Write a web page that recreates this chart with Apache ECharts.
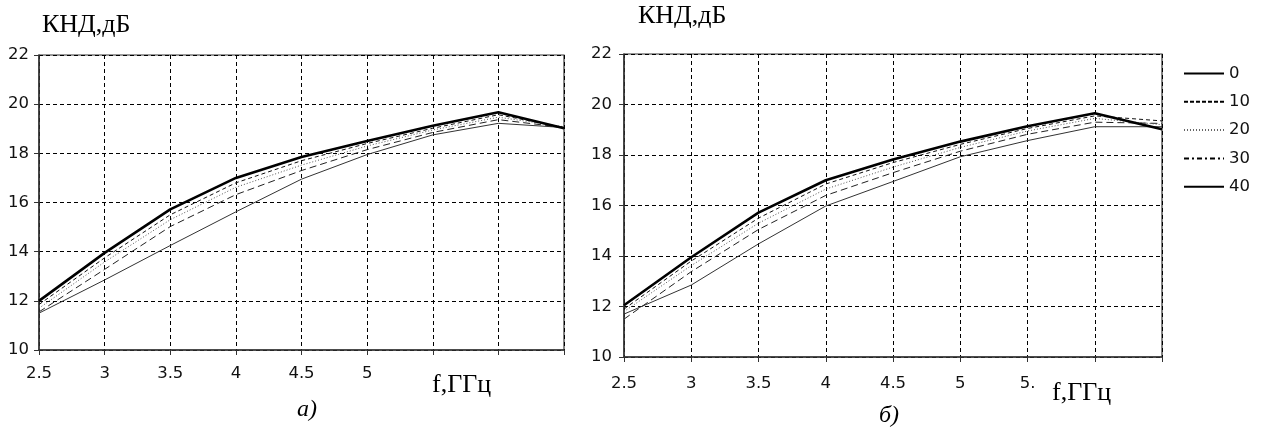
<!DOCTYPE html>
<html lang="ru">
<head>
    <meta charset="UTF-8">
    <title>КНД</title>
    <script src="https://cdn.jsdelivr.net/npm/echarts@6/dist/echarts.min.js"></script>
    <style>
        html, body { margin: 0; padding: 0; background: #fff; }
        #chart { width: 1261px; height: 427px; }
    </style>
</head>
<body>
    <div id="chart"></div>
    <script>
        // частоты, ГГц
        var freq = [2.5, 3, 3.5, 4, 4.5, 5, 5.5, 6, 6.5];
        var seriesNames = ['0', '10', '20', '30', '40'];

        // подписи оси X (на рисунке часть подписей отсутствует)
        var xLabelsA = ['2.5', '3', '3.5', '4', '4.5', '5', '', '', ''];
        var xLabelsB = ['2.5', '3', '3.5', '4', '4.5', '5', '5.', '', ''];

        // рисунок а)
        var a0  = [12.0, 13.95, 15.72, 17.0, 17.85, 18.5, 19.12, 19.67, 19.02];
        var a10 = [11.85, 13.75, 15.5, 16.8, 17.7, 18.4, 19.02, 19.57, 19.05];
        var a20 = [11.7, 13.58, 15.3, 16.62, 17.52, 18.3, 18.95, 19.47, 19.08];
        var a30 = [11.55, 13.28, 15.02, 16.32, 17.3, 18.15, 18.85, 19.37, 19.05];
        var a40 = [11.5, 12.85, 14.25, 15.62, 16.95, 17.95, 18.75, 19.22, 19.05];

        // рисунок б)
        var b0  = [12.05, 13.95, 15.72, 17.0, 17.82, 18.53, 19.14, 19.65, 19.02];
        var b10 = [11.9, 13.8, 15.5, 16.85, 17.7, 18.42, 19.05, 19.55, 19.35];
        var b20 = [11.8, 13.62, 15.3, 16.65, 17.52, 18.3, 18.95, 19.45, 19.2];
        var b30 = [11.5, 13.38, 15.05, 16.4, 17.3, 18.15, 18.82, 19.3, 19.25];
        var b40 = [11.7, 12.85, 14.48, 15.98, 16.95, 17.93, 18.57, 19.12, 19.12];

        var yMin = 10, yMax = 22, yStep = 2;

        // стили линий на графиках
        var lineStyles = [
            { width: 2.6, type: 'solid', color: '#000' },
            { width: 1, type: [4, 3], color: '#111' },
            { width: 1, type: [1, 2], color: '#555' },
            { width: 1, type: [7, 4], color: '#222' },
            { width: 1, type: 'solid', color: '#333' }
        ];
        // стили линий в легенде (как на исходном рисунке)
        var legendStyles = [
            { width: 2.2, type: 'solid', color: '#000' },
            { width: 1.6, type: [4, 2], color: '#000' },
            { width: 1, type: [1, 2], color: '#666' },
            { width: 1.6, type: [5, 3, 2, 3], color: '#000' },
            { width: 2.2, type: 'solid', color: '#000' }
        ];

        function pairs(values) {
            return freq.map(function (f, i) { return [f, values[i]]; });
        }

        function xAxisFor(gridIndex, labels, margin) {
            return {
                type: 'value',
                gridIndex: gridIndex,
                min: 2.5,
                max: 6.5,
                interval: 0.5,
                axisLine: { show: true, lineStyle: { color: '#333', width: 1.5 } },
                axisTick: { show: true, length: 5, lineStyle: { color: '#333' } },
                splitLine: { show: true, lineStyle: { color: '#000', type: [4, 3], width: 1 } },
                axisLabel: {
                    margin: margin,
                    color: '#111',
                    fontFamily: 'DejaVu Sans',
                    fontSize: 16.5,
                    showMaxLabel: true,
                    showMinLabel: true,
                    formatter: function (v) {
                        return labels[Math.round((v - 2.5) / 0.5)] || '';
                    }
                }
            };
        }

        function yAxisFor(gridIndex, margin) {
            return {
                type: 'value',
                gridIndex: gridIndex,
                min: yMin,
                max: yMax,
                interval: yStep,
                axisLine: { show: true, lineStyle: { color: '#333', width: 1.5 } },
                axisTick: { show: true, length: 5, lineStyle: { color: '#333' } },
                splitLine: { show: true, lineStyle: { color: '#000', type: [4, 3], width: 1 } },
                axisLabel: {
                    margin: margin,
                    color: '#111',
                    fontFamily: 'DejaVu Sans',
                    fontSize: 16.5
                }
            };
        }

        var series = [];
        // пустые серии только для значков легенды (легенда берёт первую серию с именем)
        seriesNames.forEach(function (n, k) {
            series.push({
                name: n, type: 'line', symbol: 'none', silent: true,
                itemStyle: { color: '#000' }, lineStyle: legendStyles[k], data: []
            });
        });
        var dataA = [a0, a10, a20, a30, a40];
        var dataB = [b0, b10, b20, b30, b40];
        [dataA, dataB].forEach(function (set, g) {
            set.forEach(function (vals, k) {
                series.push({
                    name: seriesNames[k],
                    type: 'line',
                    xAxisIndex: g,
                    yAxisIndex: g,
                    symbol: 'none',
                    silent: true,
                    z: 10 - k,
                    itemStyle: { color: '#000' },
                    lineStyle: lineStyles[k],
                    data: pairs(vals)
                });
            });
        });

        var chart = echarts.init(document.getElementById('chart'));
        var option = {
            animation: false,
            backgroundColor: '#fff',
            grid: [
                { left: 39, top: 55, width: 525, height: 295, show: true, borderColor: '#333', borderWidth: 1.2, backgroundColor: 'transparent' },
                { left: 624, top: 54, width: 538, height: 303, show: true, borderColor: '#333', borderWidth: 1.2, backgroundColor: 'transparent' }
            ],
            xAxis: [xAxisFor(0, xLabelsA, 15), xAxisFor(1, xLabelsB, 18)],
            yAxis: [yAxisFor(0, 10), yAxisFor(1, 12)],
            legend: {
                orient: 'vertical',
                left: 1178,
                top: 60,
                itemWidth: 40,
                itemHeight: 14,
                itemGap: 11.3,
                itemStyle: { opacity: 0 },
                textStyle: { fontFamily: 'DejaVu Sans', fontSize: 16.5, color: '#111' },
                data: seriesNames
            },
            graphic: [
                { type: 'text', left: 42, top: 12, style: { text: 'КНД,дБ', font: '26px "Liberation Serif"', fill: '#000' } },
                { type: 'text', left: 638, top: 3, style: { text: 'КНД,дБ', font: '26px "Liberation Serif"', fill: '#000' } },
                { type: 'text', left: 432, top: 372, style: { text: 'f,ГГц', font: '26px "Liberation Serif"', fill: '#000' } },
                { type: 'text', left: 1052, top: 380, style: { text: 'f,ГГц', font: '26px "Liberation Serif"', fill: '#000' } },
                { type: 'text', left: 297, top: 398, style: { text: 'а)', font: 'italic 24px "Liberation Serif"', fill: '#000' } },
                { type: 'text', left: 879, top: 404, style: { text: 'б)', font: 'italic 24px "Liberation Serif"', fill: '#000' } }
            ],
            series: series
        };
        chart.setOption(option);
    </script>
</body>
</html>
